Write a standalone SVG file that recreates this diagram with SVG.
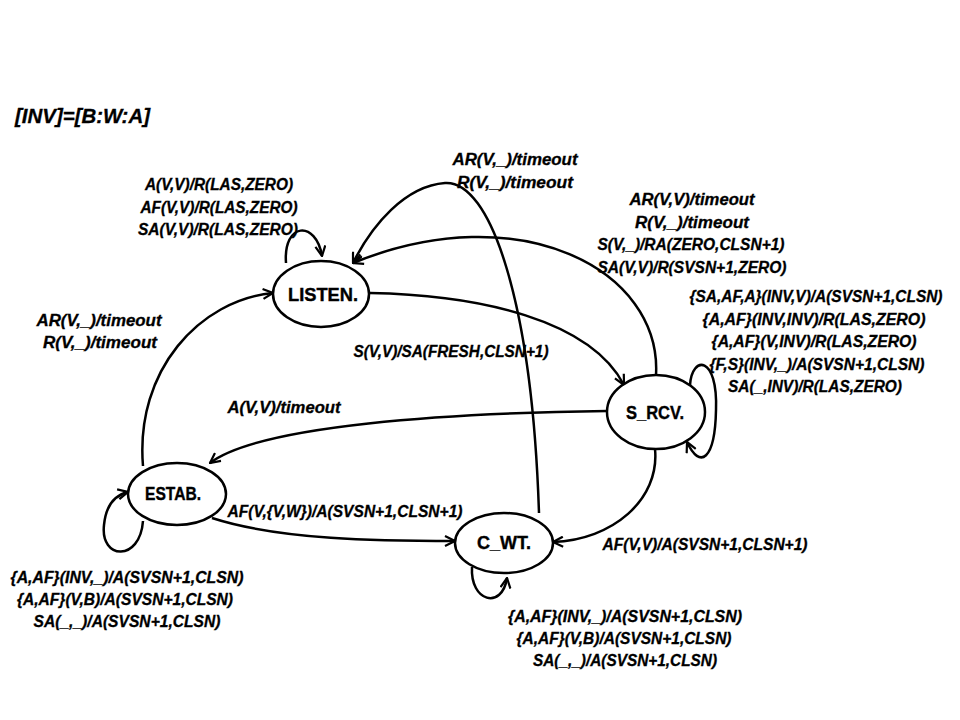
<svg xmlns="http://www.w3.org/2000/svg" width="960" height="720" viewBox="0 0 960 720">
<style>
.node ellipse{fill:#fff;stroke:#000;stroke-width:2.5}
.node text{font-family:"Liberation Sans",Arial,sans-serif;font-weight:bold;font-size:19px;text-anchor:middle;fill:#000;stroke:#000;stroke-width:0.4}
.edge{fill:none;stroke:#000;stroke-width:2.5;marker-end:url(#arr)}
.lbl{font-family:"Liberation Sans",Arial,sans-serif;font-weight:bold;font-style:italic;font-size:16px;text-anchor:middle;fill:#000;stroke:#000;stroke-width:0.3}
</style>
<defs>
<marker id="arr" viewBox="0 0 12 12" refX="11" refY="6" markerWidth="12" markerHeight="12" markerUnits="userSpaceOnUse" orient="auto">
<path d="M1,1 L11,6 L1,11" fill="none" stroke="#000" stroke-width="2.2"/>
</marker>
</defs>
<rect width="960" height="720" fill="#fff"/>
<text x="15" y="123" font-family="Liberation Sans,Arial,sans-serif" font-weight="bold" font-style="italic" font-size="20" stroke="#000" stroke-width="0.3" textLength="135" lengthAdjust="spacingAndGlyphs">[INV]=[B:W:A]</text>
<g id="connectors">
<path class="edge" d="M286,263 C283,222 316,220 322,256"/>
<path class="edge" d="M143,466 C135,370 200,300 273,293"/>
<path class="edge" d="M370,293 C480,295 590,320 624,385"/>
<path class="edge" d="M656,375 C662,270 520,195 353,263"/>
<path class="edge" d="M539,513 C532,300 490,180 445,183 C405,186 372,225 353,263"/>
<path class="edge" d="M607,411 C450,413 260,425 210,463"/>
<path class="edge" d="M212,518 C280,540 380,541 455,541"/>
<path class="edge" d="M655,449 C660,500 612,540 553,542"/>
<path class="edge" d="M690,385 C692,355 718,355 716,410 C715,460 700,470 687,442"/>
<path class="edge" d="M143,521 C140,562 100,560 104,525 C106,505 115,495 128,492"/>
<path class="edge" d="M472,567 C470,602 502,610 507,578"/>
</g>
<g id="LISTEN" class="node"><ellipse cx="321" cy="294" rx="48" ry="33"/><text x="323" y="301" textLength="70" lengthAdjust="spacingAndGlyphs">LISTEN.</text></g>
<g id="ESTAB" class="node"><ellipse cx="177" cy="494" rx="49" ry="31"/><text x="173" y="500" textLength="56" lengthAdjust="spacingAndGlyphs">ESTAB.</text></g>
<g id="C_WT" class="node"><ellipse cx="504" cy="543" rx="49" ry="30"/><text x="504" y="549" textLength="54" lengthAdjust="spacingAndGlyphs">C_WT.</text></g>
<g id="S_RCV" class="node"><ellipse cx="656" cy="412" rx="49" ry="37"/><text x="655" y="419" textLength="58" lengthAdjust="spacingAndGlyphs">S_RCV.</text></g>
<g id="labels">
<text class="lbl" x="219" y="190" textLength="148" lengthAdjust="spacingAndGlyphs">A(V,V)/R(LAS,ZERO)</text>
<text class="lbl" x="219" y="213" textLength="157" lengthAdjust="spacingAndGlyphs">AF(V,V)/R(LAS,ZERO)</text>
<text class="lbl" x="218" y="235" textLength="160" lengthAdjust="spacingAndGlyphs">SA(V,V)/R(LAS,ZERO)</text>
<text class="lbl" x="515" y="165" textLength="125" lengthAdjust="spacingAndGlyphs">AR(V,_)/timeout</text>
<text class="lbl" x="515" y="188" textLength="116" lengthAdjust="spacingAndGlyphs">R(V,_)/timeout</text>
<text class="lbl" x="692" y="205" textLength="125" lengthAdjust="spacingAndGlyphs">AR(V,V)/timeout</text>
<text class="lbl" x="692" y="228" textLength="114" lengthAdjust="spacingAndGlyphs">R(V,_)/timeout</text>
<text class="lbl" x="691" y="250" textLength="187" lengthAdjust="spacingAndGlyphs">S(V,_)/RA(ZERO,CLSN+1)</text>
<text class="lbl" x="692" y="273" textLength="189" lengthAdjust="spacingAndGlyphs">SA(V,V)/R(SVSN+1,ZERO)</text>
<text class="lbl" x="816" y="302" textLength="253" lengthAdjust="spacingAndGlyphs">{SA,AF,A}(INV,V)/A(SVSN+1,CLSN)</text>
<text class="lbl" x="814" y="325" textLength="223" lengthAdjust="spacingAndGlyphs">{A,AF}(INV,INV)/R(LAS,ZERO)</text>
<text class="lbl" x="814" y="347" textLength="205" lengthAdjust="spacingAndGlyphs">{A,AF}(V,INV)/R(LAS,ZERO)</text>
<text class="lbl" x="817" y="370" textLength="215" lengthAdjust="spacingAndGlyphs">{F,S}(INV,_)/A(SVSN+1,CLSN)</text>
<text class="lbl" x="815" y="392" textLength="174" lengthAdjust="spacingAndGlyphs">SA(_,INV)/R(LAS,ZERO)</text>
<text class="lbl" x="99" y="326" textLength="125" lengthAdjust="spacingAndGlyphs">AR(V,_)/timeout</text>
<text class="lbl" x="100" y="348" textLength="114" lengthAdjust="spacingAndGlyphs">R(V,_)/timeout</text>
<text class="lbl" x="451" y="357" textLength="195" lengthAdjust="spacingAndGlyphs">S(V,V)/SA(FRESH,CLSN+1)</text>
<text class="lbl" x="284" y="413" textLength="113" lengthAdjust="spacingAndGlyphs">A(V,V)/timeout</text>
<text class="lbl" x="345" y="517" textLength="235" lengthAdjust="spacingAndGlyphs">AF(V,{V,W})/A(SVSN+1,CLSN+1)</text>
<text class="lbl" x="705" y="550" textLength="205" lengthAdjust="spacingAndGlyphs">AF(V,V)/A(SVSN+1,CLSN+1)</text>
<text class="lbl" x="127" y="583" textLength="233" lengthAdjust="spacingAndGlyphs">{A,AF}(INV,_)/A(SVSN+1,CLSN)</text>
<text class="lbl" x="125" y="605" textLength="216" lengthAdjust="spacingAndGlyphs">{A,AF}(V,B)/A(SVSN+1,CLSN)</text>
<text class="lbl" x="127" y="627" textLength="187" lengthAdjust="spacingAndGlyphs">SA(_,_)/A(SVSN+1,CLSN)</text>
<text class="lbl" x="625" y="622" textLength="234" lengthAdjust="spacingAndGlyphs">{A,AF}(INV,_)/A(SVSN+1,CLSN)</text>
<text class="lbl" x="624" y="644" textLength="215" lengthAdjust="spacingAndGlyphs">{A,AF}(V,B)/A(SVSN+1,CLSN)</text>
<text class="lbl" x="625" y="666" textLength="184" lengthAdjust="spacingAndGlyphs">SA(_,_)/A(SVSN+1,CLSN)</text>
</g>
</svg>
